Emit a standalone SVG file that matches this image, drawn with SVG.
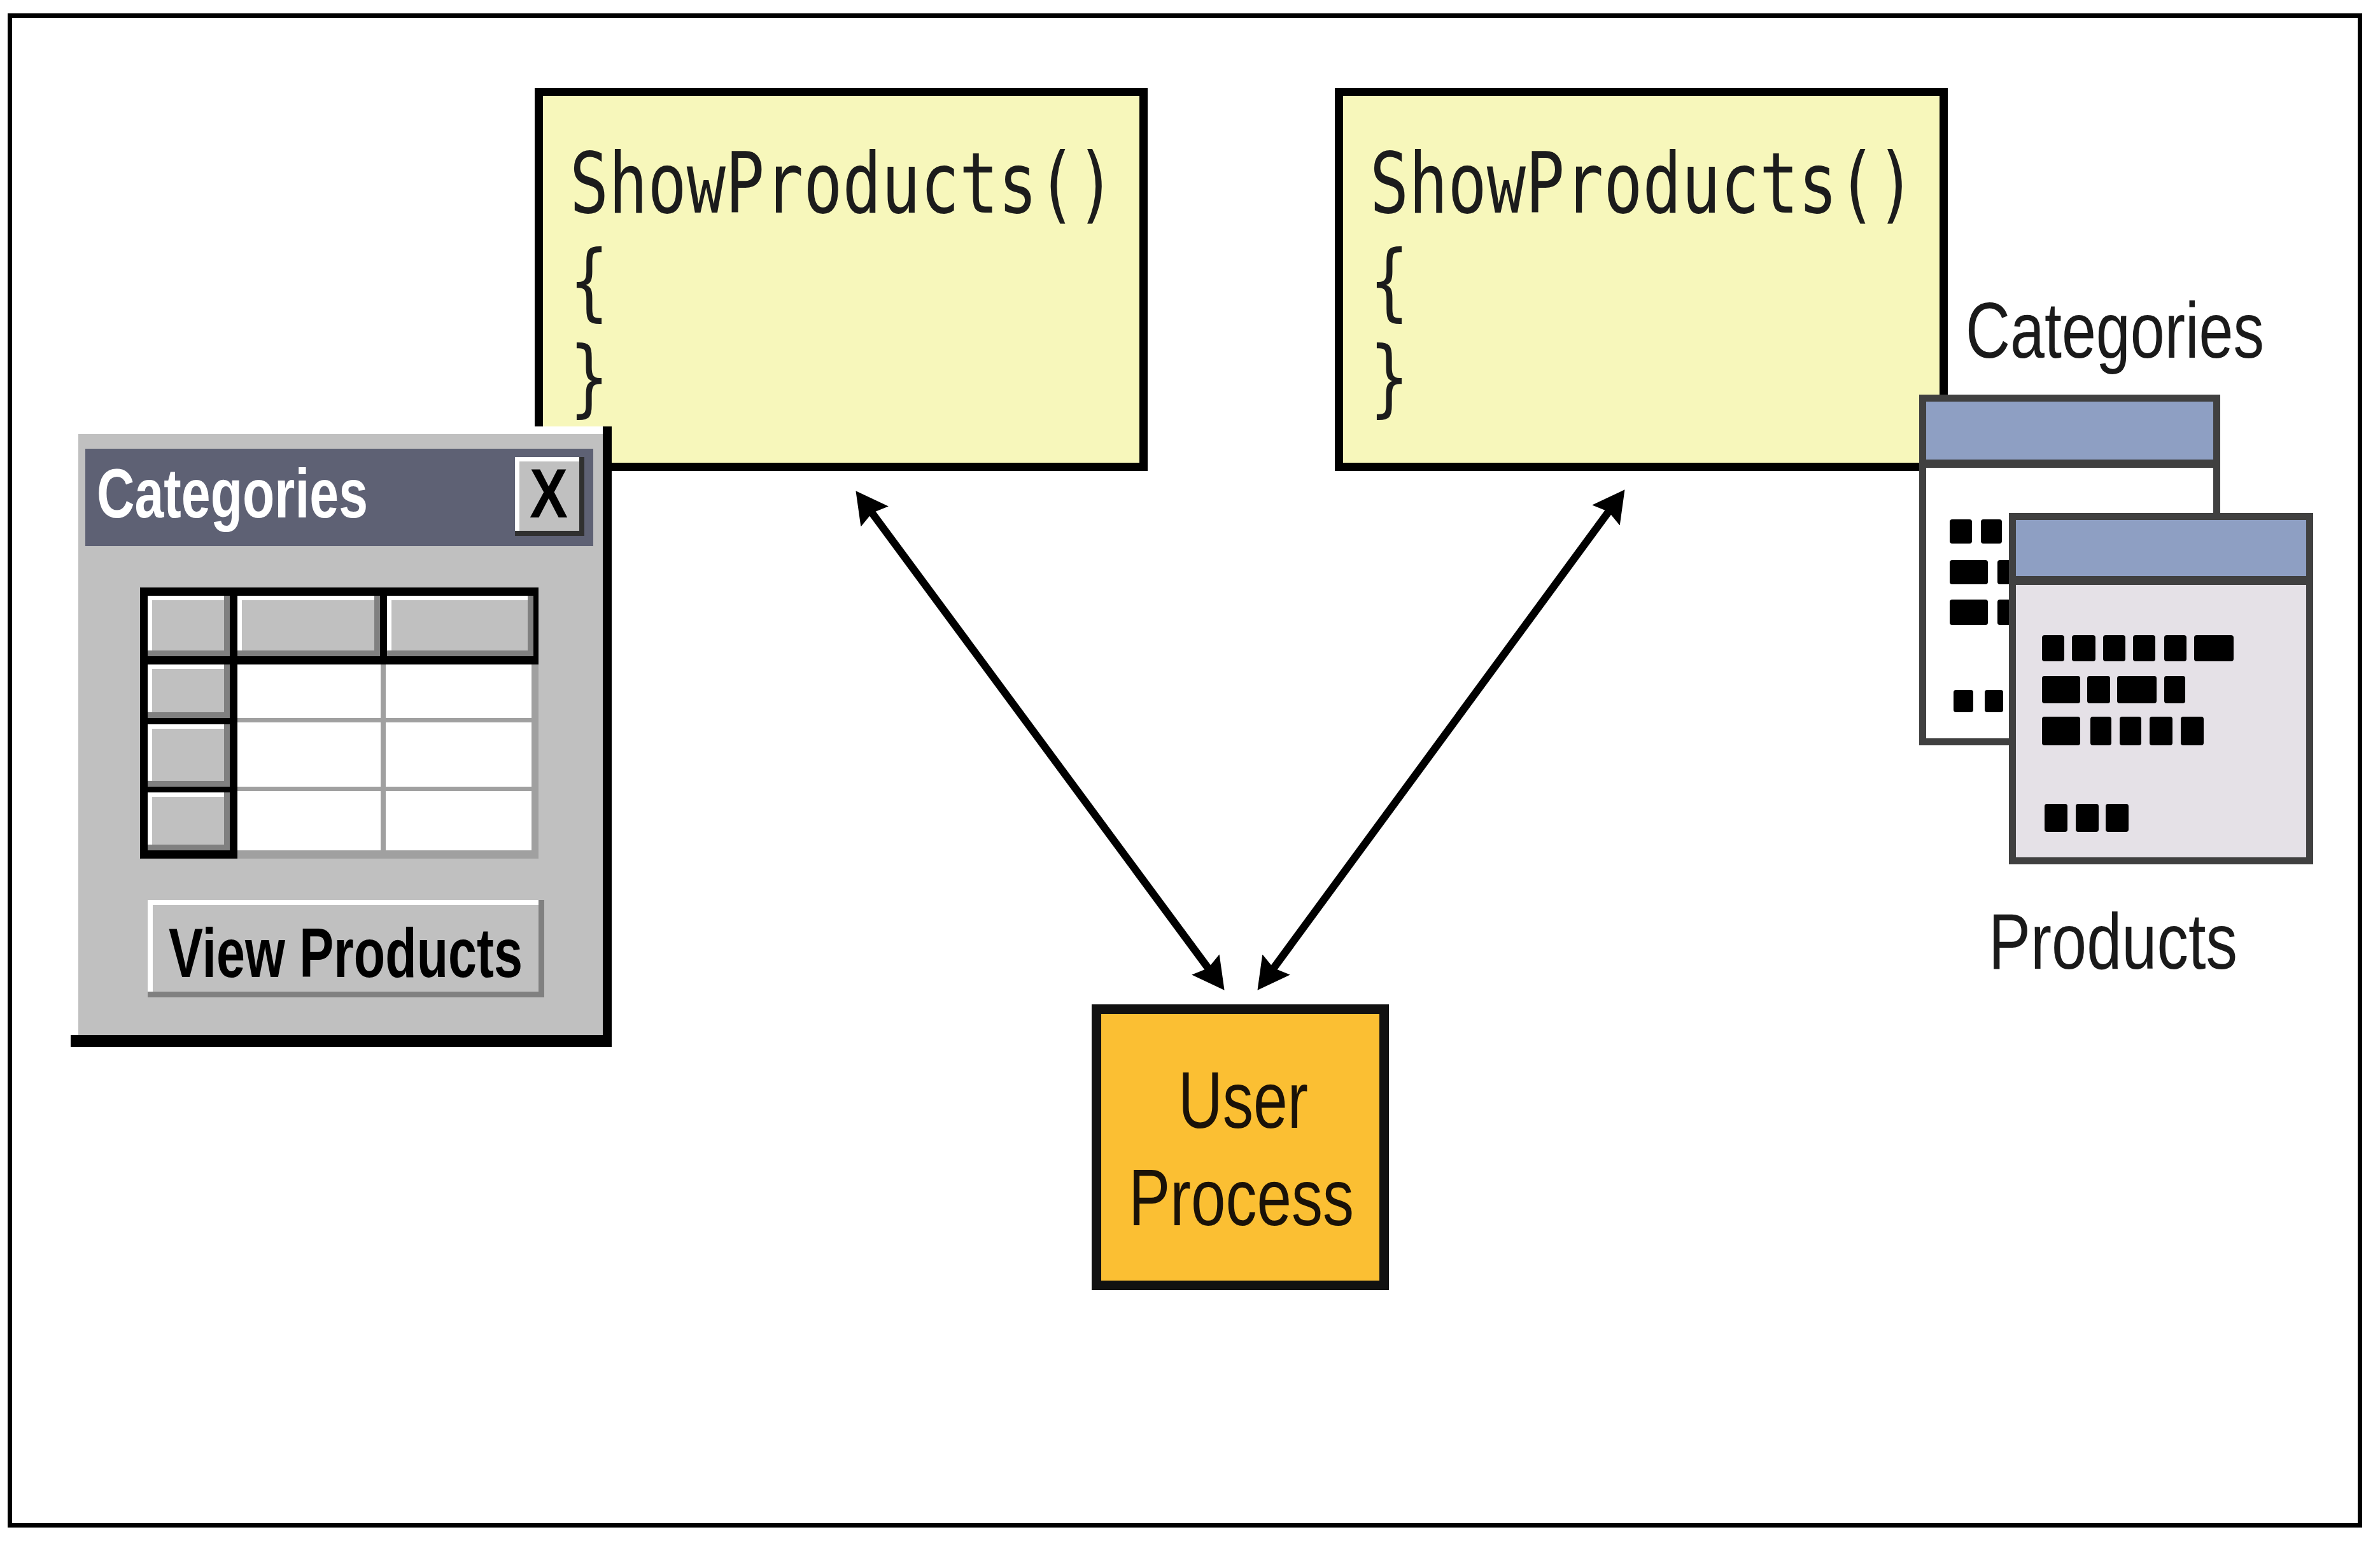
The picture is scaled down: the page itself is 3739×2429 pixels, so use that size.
<svg xmlns="http://www.w3.org/2000/svg" width="3739" height="2429" viewBox="0 0 3739 2429">
<style>
.mono{font-family:"DejaVu Sans Mono","Liberation Mono",monospace;font-size:132px;fill:#1c1c1c}
.lbl{font-family:"Liberation Sans",Arial,sans-serif;font-size:124px;fill:#1a1a1a}
.up{font-family:"Liberation Sans",Arial,sans-serif;font-size:127px;fill:#1a1208;text-anchor:middle}
.bold{font-family:"Liberation Sans",Arial,sans-serif;font-weight:bold;font-size:109px}
.code{fill:#f7f7bb;stroke:#000;stroke-width:13}
.win{stroke:#404040;stroke-width:11}
.bar{fill:#8e9fc3}
.dot{fill:#000}
.gray{fill:#c0c0c0}
.hi{fill:#ffffff}
.sh{fill:#808080}
.conn{stroke:#000;stroke-width:12;fill:none}
</style>
<defs>
<marker id="ah" viewBox="0 0 50 54" markerWidth="50" markerHeight="54" markerUnits="userSpaceOnUse" refX="28" refY="27" orient="auto-start-reverse">
<path d="M0,0 L50,27 L0,54 L7,27 Z" fill="#000"/>
</marker>
</defs>
<rect x="0" y="0" width="3739" height="2429" fill="#fff"/>
<rect id="frame" x="15.5" y="24.5" width="3692" height="2372" fill="#fff" stroke="#000" stroke-width="7"/>

<g id="code-left">
<rect class="code" x="846.5" y="144.5" width="950" height="589"/>
<text class="mono" x="895" y="334" textLength="857" lengthAdjust="spacingAndGlyphs">ShowProducts()</text>
<text class="mono" x="895" y="487" textLength="61" lengthAdjust="spacingAndGlyphs">{</text>
<text class="mono" x="895" y="638" textLength="61" lengthAdjust="spacingAndGlyphs">}</text>
</g>

<g id="code-right">
<rect class="code" x="2103.5" y="144.5" width="950" height="589"/>
<text class="mono" x="2152" y="334" textLength="857" lengthAdjust="spacingAndGlyphs">ShowProducts()</text>
<text class="mono" x="2152" y="487" textLength="61" lengthAdjust="spacingAndGlyphs">{</text>
<text class="mono" x="2152" y="638" textLength="61" lengthAdjust="spacingAndGlyphs">}</text>
</g>

<g id="categories-window">
<rect x="111" y="670" width="850" height="975" fill="#000"/>
<rect class="gray" x="111" y="670" width="836" height="956"/>
<rect class="hi" x="111" y="670" width="836" height="12"/>
<rect class="hi" x="111" y="670" width="12" height="956"/>
<rect x="134" y="705" width="798" height="153" fill="#5e6174"/>
<text class="bold" x="152" y="813" fill="#fff" textLength="426" lengthAdjust="spacingAndGlyphs">Categories</text>
<g id="close-button">
<rect x="809" y="718" width="109" height="124" fill="#303030"/>
<rect class="hi" x="809" y="718" width="101" height="116"/>
<rect class="gray" x="816" y="725" width="94" height="109"/>
<text class="bold" x="862" y="813" font-size="100" text-anchor="middle" fill="#000" textLength="60" lengthAdjust="spacingAndGlyphs">X</text>
</g>
<g id="grid">
<rect x="220" y="923" width="626" height="121" fill="#000"/>
<rect x="220" y="1044" width="153" height="305" fill="#000"/>
<rect x="373" y="1044" width="473" height="305" fill="#a0a0a0"/>
<rect class="sh" x="232" y="936" width="129" height="95"/>
<rect class="hi" x="232" y="936" width="120" height="86"/>
<rect class="gray" x="239" y="943" width="113" height="79"/>
<rect class="sh" x="373" y="936" width="224" height="95"/>
<rect class="hi" x="373" y="936" width="215" height="86"/>
<rect class="gray" x="380" y="943" width="208" height="79"/>
<rect class="sh" x="608" y="936" width="230" height="95"/>
<rect class="hi" x="608" y="936" width="221" height="86"/>
<rect class="gray" x="615" y="943" width="214" height="79"/>
<rect class="sh" x="232" y="1044" width="129" height="84"/>
<rect class="hi" x="232" y="1044" width="120" height="75"/>
<rect class="gray" x="239" y="1051" width="113" height="68"/>
<rect class="sh" x="232" y="1138" width="129" height="98"/>
<rect class="hi" x="232" y="1138" width="120" height="89"/>
<rect class="gray" x="239" y="1145" width="113" height="82"/>
<rect class="sh" x="232" y="1245" width="129" height="91"/>
<rect class="hi" x="232" y="1245" width="120" height="82"/>
<rect class="gray" x="239" y="1252" width="113" height="75"/>
<rect class="hi" x="373" y="1044" width="225" height="84"/>
<rect class="hi" x="606" y="1044" width="229" height="84"/>
<rect class="hi" x="373" y="1135" width="225" height="101"/>
<rect class="hi" x="606" y="1135" width="229" height="101"/>
<rect class="hi" x="373" y="1243" width="225" height="93"/>
<rect class="hi" x="606" y="1243" width="229" height="93"/>
</g>
<g id="view-products-button">
<rect class="sh" x="232" y="1414" width="623" height="153"/>
<rect class="hi" x="232" y="1414" width="614" height="144"/>
<rect class="gray" x="240" y="1422" width="606" height="136"/>
<text class="bold" x="265" y="1535" fill="#000" textLength="556" lengthAdjust="spacingAndGlyphs">View Products</text>
</g>
</g>

<g id="categories-form">
<rect class="win" x="3020.5" y="625.5" width="462" height="540" fill="#fff"/>
<rect class="bar" x="3026" y="631" width="451" height="92"/>
<rect x="3026" y="722" width="451" height="13" fill="#404040"/>
<rect class="dot" x="3063" y="816" width="35" height="38" rx="4"/>
<rect class="dot" x="3112" y="816" width="33" height="38" rx="4"/>
<rect class="dot" x="3063" y="880" width="60" height="38" rx="4"/>
<rect class="dot" x="3138" y="880" width="30" height="38" rx="4"/>
<rect class="dot" x="3063" y="942" width="60" height="40" rx="4"/>
<rect class="dot" x="3138" y="942" width="30" height="40" rx="4"/>
<rect class="dot" x="3069" y="1084" width="31" height="35" rx="4"/>
<rect class="dot" x="3118" y="1084" width="29" height="35" rx="4"/>
</g>

<g id="products-form">
<rect class="win" x="3161.5" y="811.5" width="467" height="541" fill="#e5e1e7"/>
<rect class="bar" x="3167" y="817" width="456" height="89"/>
<rect x="3167" y="905" width="456" height="14" fill="#404040"/>
<rect class="dot" x="3208" y="998" width="35" height="41" rx="4"/>
<rect class="dot" x="3255" y="998" width="37" height="41" rx="4"/>
<rect class="dot" x="3304" y="998" width="35" height="41" rx="4"/>
<rect class="dot" x="3351" y="998" width="35" height="41" rx="4"/>
<rect class="dot" x="3400" y="998" width="35" height="41" rx="4"/>
<rect class="dot" x="3447" y="998" width="62" height="41" rx="4"/>
<rect class="dot" x="3208" y="1062" width="60" height="43" rx="4"/>
<rect class="dot" x="3279" y="1062" width="36" height="43" rx="4"/>
<rect class="dot" x="3326" y="1062" width="62" height="43" rx="4"/>
<rect class="dot" x="3400" y="1062" width="33" height="43" rx="4"/>
<rect class="dot" x="3208" y="1126" width="60" height="45" rx="4"/>
<rect class="dot" x="3284" y="1126" width="33" height="45" rx="4"/>
<rect class="dot" x="3330" y="1126" width="34" height="45" rx="4"/>
<rect class="dot" x="3377" y="1126" width="36" height="45" rx="4"/>
<rect class="dot" x="3426" y="1126" width="36" height="45" rx="4"/>
<rect class="dot" x="3212" y="1263" width="36" height="44" rx="4"/>
<rect class="dot" x="3261" y="1263" width="36" height="44" rx="4"/>
<rect class="dot" x="3308" y="1263" width="36" height="44" rx="4"/>
</g>

<g id="labels">
<text class="lbl" x="3088" y="562" textLength="469" lengthAdjust="spacingAndGlyphs">Categories</text>
<text class="lbl" x="3124" y="1522" textLength="391" lengthAdjust="spacingAndGlyphs">Products</text>
</g>

<g id="user-process">
<rect x="1722.5" y="1585.5" width="452" height="434" fill="#fbbf33" stroke="#111" stroke-width="15"/>
<text class="up" x="1953" y="1772" textLength="204" lengthAdjust="spacingAndGlyphs">User</text>
<text class="up" x="1950" y="1925" textLength="354" lengthAdjust="spacingAndGlyphs">Process</text>
</g>

<g id="connectors">
<line class="conn" x1="1357.5" y1="789" x2="1910.5" y2="1538" marker-start="url(#ah)" marker-end="url(#ah)"/>
<line class="conn" x1="2539.5" y1="787" x2="1988.5" y2="1538" marker-start="url(#ah)" marker-end="url(#ah)"/>
</g>
</svg>
